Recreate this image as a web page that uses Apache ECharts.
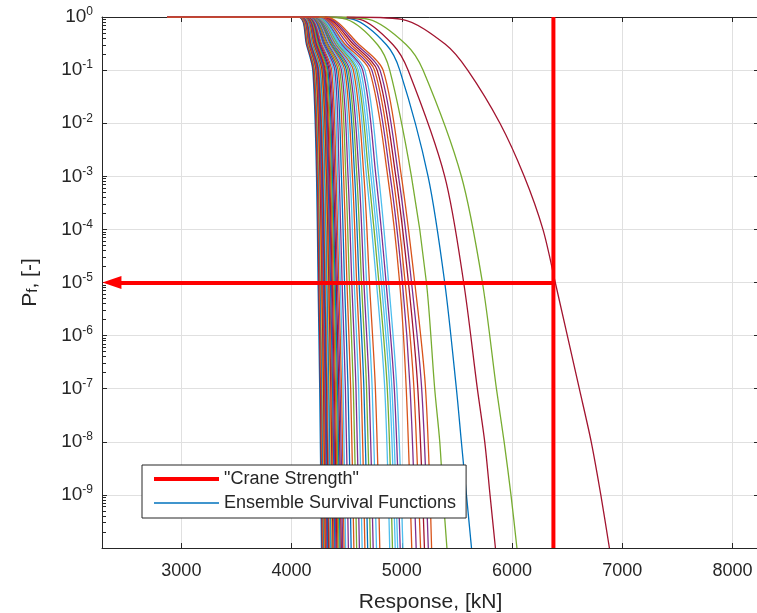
<!DOCTYPE html>
<html>
<head>
<meta charset="utf-8">
<script src="https://cdn.jsdelivr.net/npm/echarts@6/dist/echarts.min.js"></script>
<style>html,body{margin:0;padding:0;background:#fff}#c{width:757px;height:613px}</style>
</head>
<body>
<div id="c"></div>
<script>
// ---------- axis data ----------
const X_MIN = 2280, X_MAX = 8240;
const Y_MIN = 1e-10, Y_MAX = 1;
const X_TICKS = [3000, 4000, 5000, 6000, 7000, 8000];
const Y_DECADES = [1e-10, 1e-9, 1e-8, 1e-7, 1e-6, 1e-5, 1e-4, 1e-3, 1e-2, 1e-1, 1];
const Y_LABELS = [1e-9, 1e-8, 1e-7, 1e-6, 1e-5, 1e-4, 1e-3, 1e-2, 1e-1, 1];
const MINOR_TICK_DECADES = [-1, -4, -5, -6, -7, -10];
const MINOR_TICK_MULTIPLIERS = [2, 3, 4, 5, 6, 7, 8, 9];

// ---------- reference lines ----------
const CRANE_STRENGTH = 6375;      // kN
const TARGET_PF = 1e-5;
const ARROW_END_X = 2370;         // arrow drawn back to the P axis

// ---------- ensemble survival functions (bundle) ----------
const DATA_START_X = 2870;
const BUNDLE_P_LEVELS = [1, 0.3, 0.1, 1e-3, 1e-5, 1e-7, 1e-10];
const BUNDLE_X_START = [4060,4064,4068,4072,4076,4080,4084,4088,4092,4096,4100,4104,4108,4112,4116,4120,4124,4128,4132,4136,4140,4144,4148,4152,4156,4160,
  4165,4170,4175,4180,4185,4190,4195,4200,4205,4210,4215,4220,
  4225,4230,4235,4240,4245,4250,
  4255,4265,4275,4285,4295,4305];
const BUNDLE_X_P03 = [4135,4140,4145,4150,4155,4160,4165,4170,4175,4180,4185,4190,4195,4200,4206,4212,4218,4224,4230,4237,4244,4251,4259,4267,4276,4286,
  4295,4305,4315,4325,4335,4345,4355,4365,4375,4385,4395,4405,
  4415,4425,4435,4448,4460,4475,
  4490,4515,4540,4565,4590,4615];
const BUNDLE_X_P1E1 = [4192,4198,4204,4210,4216,4222,4228,4234,4240,4246,4252,4258,4264,4270,4277,4284,4291,4298,4305,4313,4321,4330,4340,4351,4363,4377,
  4392,4407,4422,4437,4452,4467,4482,4497,4512,4527,4543,4560,
  4575,4590,4605,4625,4645,4665,
  4705,4728,4752,4776,4802,4830];
const BUNDLE_X_P1E3 = [4226,4233,4239,4246,4252,4258,4265,4271,4278,4284,4291,4297,4304,4310,4317,4324,4331,4338,4346,4354,4362,4371,4381,4392,4404,4418,
  4432,4452,4472,4492,4512,4532,4552,4572,4592,4612,4634,4656,
  4680,4700,4720,4740,4765,4790,
  4872,4895,4920,4945,4970,4996];
const BUNDLE_X_P1E5 = [4240,4247,4254,4261,4268,4275,4281,4288,4295,4302,4309,4316,4323,4330,4338,4345,4353,4361,4369,4377,4386,4395,4405,4416,4428,4442,
  4458,4480,4502,4524,4546,4568,4590,4612,4634,4656,4680,4706,
  4770,4792,4814,4835,4857,4880,
  4980,5005,5030,5060,5088,5117];
const BUNDLE_X_P1E7 = [4255,4262,4269,4276,4283,4290,4297,4304,4311,4318,4326,4333,4340,4348,4356,4364,4372,4380,4389,4398,4407,4417,4428,4440,4453,4467,
  4488,4512,4536,4560,4584,4608,4632,4656,4680,4704,4731,4760,
  4845,4868,4890,4910,4932,4955,
  5040,5075,5110,5145,5180,5215];
const BUNDLE_X_P1E10 = [4271,4278,4285,4292,4299,4306,4313,4320,4328,4336,4344,4352,4360,4368,4376,4385,4393,4402,4411,4420,4430,4440,4451,4463,4476,4490,
  4515,4540,4565,4590,4615,4640,4665,4690,4715,4740,4770,4800,
  4890,4915,4940,4962,4985,5010,
  5090,5130,5170,5205,5240,5270];
const BUNDLE_COLOR_IDX = [0,6,1,0,2,6,1,3,0,6,1,5,0,2,6,1,0,3,6,1,4,0,6,3,1,5,
  3,0,1,4,3,5,1,0,4,3,5,1,
  5,4,5,5,3,5,
  1,3,1,6,3,1];

// ---------- ensemble survival functions (right-hand outliers) [x, P] ----------
const CURVE_B = [[4280,1],[4560,0.9],[4860,0.3],[4981,0.1],[5238,1e-3],[5389,1e-5],[5495,1e-7],[5540,1e-8],[5586,1e-9],[5632,1e-10]];
const CURVE_A = [[4250,1],[4500,0.9],[4780,0.3],[4890,0.1],[5087,1e-3],[5223,1e-5],[5298,1e-7],[5344,1e-8],[5374,1e-9],[5409,1e-10]];
const CURVE_C = [[4300,1],[4620,0.9],[4920,0.3],[5056,0.1],[5389,1e-3],[5561,1e-5],[5685,1e-7],[5752,1e-8],[5800,1e-9],[5849,1e-10]];
const CURVE_D = [[4350,1],[4700,0.9],[5040,0.3],[5192,0.1],[5540,1e-3],[5731,1e-5],[5858,1e-7],[5928,1e-8],[5990,1e-9],[6044,1e-10]];
const CURVE_E = [[4500,1],[5000,0.9],[5400,0.3],[5597,0.1],[5890,1e-2],[6110,1e-3],[6280,1e-4],[6392,1e-5],[6610,1e-7],[6718,1e-8],[6805,1e-9],[6883,1e-10]];
const OUTLIERS = [CURVE_B, CURVE_A, CURVE_C, CURVE_D, CURVE_E];
const OUTLIER_COLOR_IDX = [0, 4, 6, 4, 6];

const MATLAB_COLORS = ['#0072BD', '#D95319', '#EDB120', '#7E2F8E', '#77AC30', '#4DBEEE', '#A2142F'];
const ENSEMBLE_NAME = 'Ensemble Survival Functions';
const CRANE_NAME = '"Crane Strength"';

// ---------- build ----------
const FONT = '"Liberation Sans", Arial, Helvetica, sans-serif';
const AX = '#262626';
const GRID = '#e0e0e0';
const CURVE_WIDTH = 1.3;
const CRANE_WIDTH = 4;

function curve(points, color) {
  return {
    type: 'line', name: ENSEMBLE_NAME, data: points,
    xAxisIndex: 0, yAxisIndex: 0,
    symbol: 'none', showSymbol: false,
    smooth: 0.3,
    lineStyle: { width: CURVE_WIDTH, color: color },
    itemStyle: { color: color },
    silent: true, z: 2, animation: false
  };
}

const bundleCols = [BUNDLE_X_START, BUNDLE_X_P03, BUNDLE_X_P1E1, BUNDLE_X_P1E3, BUNDLE_X_P1E5, BUNDLE_X_P1E7, BUNDLE_X_P1E10];
const series = [];
for (let i = 0; i < BUNDLE_X_START.length; i++) {
  const pts = [[DATA_START_X, 1]];
  for (let k = 0; k < BUNDLE_P_LEVELS.length; k++) pts.push([bundleCols[k][i], BUNDLE_P_LEVELS[k]]);
  series.push(curve(pts, MATLAB_COLORS[BUNDLE_COLOR_IDX[i]]));
}
// first ensemble series stays blue for the legend; last bundle curve (orange) is drawn on top along P = 1
OUTLIERS.forEach((c, j) => series.splice(series.length - 1, 0, curve(c, MATLAB_COLORS[OUTLIER_COLOR_IDX[j]])));

series.push({
  type: 'line', name: CRANE_NAME,
  data: [[CRANE_STRENGTH, Y_MIN], [CRANE_STRENGTH, Y_MAX]],
  xAxisIndex: 0, yAxisIndex: 0,
  symbol: 'none', showSymbol: false,
  lineStyle: { width: CRANE_WIDTH, color: '#FF0000' }, itemStyle: { color: '#FF0000' },
  silent: true, z: 5, animation: false,
  markLine: {
    silent: true, animation: false,
    symbol: ['none', 'triangle'], symbolSize: [13, 19],
    label: { show: false },
    lineStyle: { color: '#FF0000', width: CRANE_WIDTH, type: 'solid' },
    data: [[{ coord: [CRANE_STRENGTH, TARGET_PF] }, { coord: [ARROW_END_X, TARGET_PF] }]]
  }
});

const minorTicks = [];
MINOR_TICK_DECADES.forEach(d => MINOR_TICK_MULTIPLIERS.forEach(m => minorTicks.push(m * Math.pow(10, d))));

const labelStyle = { color: AX, fontFamily: FONT };
const option = {
  backgroundColor: '#ffffff',
  animation: false,
  textStyle: { fontFamily: FONT },
  grid: { left: 102, top: 17, width: 657, height: 531, containLabel: false, outerBoundsMode: 'none' },
  legend: {
    data: [
      { name: CRANE_NAME, lineStyle: { width: CRANE_WIDTH, color: '#FF0000' } },
      { name: ENSEMBLE_NAME, lineStyle: { width: CURVE_WIDTH, color: MATLAB_COLORS[0] } }
    ],
    orient: 'vertical', left: 142, top: 465,
    itemWidth: 65, itemHeight: 21, itemGap: 6,
    padding: [5, 10, 6, 10],
    backgroundColor: '#ffffff', borderColor: AX, borderWidth: 1, borderRadius: 0,
    itemStyle: { opacity: 0 },
    textStyle: { fontSize: 18, color: AX, fontFamily: FONT },
    selectedMode: false, z: 20
  },
  xAxis: [
    {
      type: 'value', min: X_MIN, max: X_MAX, position: 'bottom',
      name: 'Response, [kN]', nameLocation: 'middle', nameGap: 44,
      nameTextStyle: { fontSize: 21, color: AX, fontFamily: FONT },
      axisLine: { show: true, onZero: false, lineStyle: { color: AX, width: 1 } },
      axisTick: { show: true, inside: true, length: 5, customValues: X_TICKS, lineStyle: { color: AX } },
      axisLabel: { customValues: X_TICKS, fontSize: 18, margin: 14, formatter: v => String(v), ...labelStyle },
      splitLine: { show: true, lineStyle: { color: GRID, width: 1 } }
    },
    {
      type: 'value', min: X_MIN, max: X_MAX, position: 'top',
      axisLine: { show: true, onZero: false, lineStyle: { color: AX, width: 1 } },
      axisTick: { show: true, inside: true, length: 5, customValues: X_TICKS, lineStyle: { color: AX } },
      axisLabel: { show: false }, splitLine: { show: false }
    }
  ],
  yAxis: [
    {
      type: 'log', logBase: 10, min: Y_MIN, max: Y_MAX, position: 'left',
      name: '{p|P}{f|f}{p|, [-]}', nameLocation: 'middle', nameGap: 56, nameRotate: 90,
      nameTextStyle: {
        color: AX, fontFamily: FONT,
        rich: {
          p: { fontSize: 21, color: AX, fontFamily: FONT, padding: [0, 0, 5, 0] },
          f: { fontSize: 15, color: AX, fontFamily: FONT }
        }
      },
      axisLine: { show: true, onZero: false, lineStyle: { color: AX, width: 1 } },
      axisTick: { show: true, inside: true, length: 5, customValues: Y_DECADES, lineStyle: { color: AX } },
      axisLabel: {
        customValues: Y_LABELS, margin: 9, color: AX,
        formatter: v => '{b|10}{s|' + Math.round(Math.log10(v)) + '}',
        rich: {
          b: { fontSize: 19, color: AX, fontFamily: FONT },
          s: { fontSize: 12, color: AX, fontFamily: FONT, padding: [0, 0, 10, 0] }
        }
      },
      splitLine: { show: true, lineStyle: { color: GRID, width: 1 } }
    },
    {
      type: 'log', logBase: 10, min: Y_MIN, max: Y_MAX, position: 'right',
      axisLine: { show: true, onZero: false, lineStyle: { color: AX, width: 1 } },
      axisTick: { show: true, inside: true, length: 5, customValues: Y_DECADES, lineStyle: { color: AX } },
      axisLabel: { show: false }, splitLine: { show: false }
    },
    {
      type: 'log', logBase: 10, min: Y_MIN, max: Y_MAX, position: 'left', offset: 0,
      axisLine: { show: false, onZero: false },
      axisTick: { show: true, inside: true, length: 4, customValues: minorTicks, lineStyle: { color: AX } },
      axisLabel: { show: false }, splitLine: { show: false }
    }
  ],
  series: series
};

const chart = echarts.init(document.getElementById('c'), null, { renderer: 'canvas', width: 757, height: 613 });
chart.setOption(option);
</script>
</body>
</html>
